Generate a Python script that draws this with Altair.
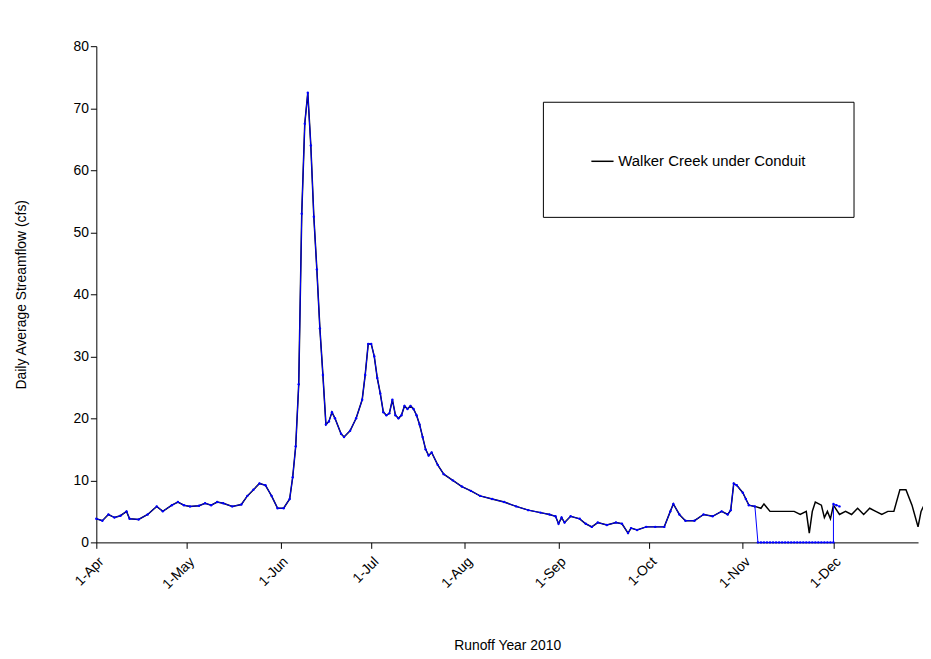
import altair as alt
import pandas as pd

# (month, day, value) key readings of the black series
black_pts = [
 (4,1,3.8),(4,3,3.5),(4,5,4.5),(4,7,4.0),(4,9,4.3),(4,11,5.0),(4,12,3.8),(4,15,3.7),(4,18,4.5),(4,21,5.8),(4,23,5.0),(4,26,6.0),(4,28,6.5),(4,30,6.0),
 (5,2,5.8),(5,5,5.9),(5,7,6.3),(5,9,6.0),(5,11,6.5),(5,13,6.3),(5,16,5.8),(5,19,6.1),(5,21,7.5),(5,23,8.5),(5,25,9.5),(5,27,9.2),(5,29,7.5),(5,31,5.5),
 (6,2,5.5),(6,4,7.0),(6,5,10.5),(6,6,15.5),(6,7,25.5),(6,8,53),(6,9,67.5),(6,10,72.5),(6,11,64),(6,12,52.5),(6,13,44),(6,14,34.5),(6,15,27),(6,16,19),(6,17,19.5),(6,18,21),(6,19,20),(6,21,17.5),(6,22,17),(6,24,18),(6,26,20),(6,28,23),(6,29,27),(6,30,32),
 (7,1,32),(7,2,30),(7,3,26.5),(7,4,24),(7,5,21),(7,6,20.5),(7,7,20.8),(7,8,23),(7,9,20.5),(7,10,20),(7,11,20.5),(7,12,22),(7,13,21.5),(7,14,22),(7,15,21.5),(7,16,20.5),(7,17,19),(7,18,17),(7,19,15),(7,20,14),(7,21,14.5),(7,23,12.5),(7,25,11),(7,28,10),(7,31,9),
 (8,3,8.3),(8,6,7.5),(8,10,7),(8,14,6.5),(8,18,5.8),(8,22,5.2),(8,26,4.8),(8,29,4.5),(8,31,4.2),
 (9,1,3),(9,2,4),(9,3,3.2),(9,5,4.2),(9,8,3.8),(9,10,3),(9,12,2.5),(9,14,3.2),(9,17,2.8),(9,20,3.2),(9,22,3),(9,24,1.5),(9,25,2.3),(9,27,2),(9,30,2.5),
 (10,3,2.5),(10,6,2.5),(10,8,5),(10,9,6.2),(10,11,4.5),(10,13,3.5),(10,16,3.5),(10,19,4.5),(10,22,4.2),(10,25,5),(10,27,4.5),(10,28,5.2),(10,29,9.5),(10,30,9.2),
 (11,1,8),(11,2,7),(11,3,6),(11,5,5.8),(11,7,5.5),(11,8,6.2),(11,10,5),(11,14,5),(11,18,5),(11,20,4.5),(11,22,5),(11,23,1.5),(11,24,5),(11,25,6.5),(11,27,6),(11,28,4),(11,29,5),(11,30,3.8),
 (12,1,6),(12,3,4.5),(12,5,5),(12,7,4.5),(12,9,5.5),(12,11,4.5),(12,13,5.5),(12,15,5),(12,17,4.5),(12,19,5),(12,21,5),(12,23,8.5),(12,25,8.5),(12,27,6),(12,29,2.5),(12,30,5),(12,31,6),
]
# blue series: same as black until Nov 5, then zero until Dec 1
blue_zero_days = [(11,d) for d in range(6,31)] + [(12,1)]
blue_tail = [(12,1,6.2),(12,2,6.0),(12,3,5.8)]

def ds(m, d):
    return f"2010-{m:02d}-{d:02d}"

black = pd.DataFrame({"date": [ds(m, d) for m, d, v in black_pts],
                      "flow": [v for m, d, v in black_pts],
                      "series": "Walker Creek under Conduit"})
blue_rows = [(ds(m, d), v) for m, d, v in black_pts if (m, d) <= (11, 5)]
blue_rows += [(ds(m, d), 0.0) for m, d in blue_zero_days]
blue_rows += [(ds(m, d), v) for m, d, v in blue_tail]
blue = pd.DataFrame(blue_rows, columns=["date", "flow"])

ticks = [ds(m, 1) for m in range(4, 13)]
F = "Liberation Sans"
x = alt.X("date:T", title="Runoff Year 2010",
          scale=alt.Scale(type="utc", domain=["2010-04-01", "2010-12-29"]),
          axis=alt.Axis(values=ticks, labelExpr="utcFormat(datum.value, '%-d-%b')", labelAngle=-45,
                        labelAlign="right", grid=False, domainColor="black", tickColor="black",
                        labelColor="black", titleColor="black", titleFontWeight="normal",
                        labelFont=F, titleFont=F, labelFontSize=14, titleFontSize=14,
                        labelPadding=6, titlePadding=48, tickSize=6))
y = alt.Y("flow:Q", title="Daily Average Streamflow (cfs)",
          scale=alt.Scale(domain=[0, 80]),
          axis=alt.Axis(values=list(range(0, 81, 10)), grid=False, domainColor="black",
                        tickColor="black", labelColor="black", titleColor="black",
                        titleFontWeight="normal", labelFont=F, titleFont=F,
                        labelFontSize=14, titleFontSize=14, titlePadding=45, tickSize=6))

bl = alt.Chart(black).mark_line(strokeWidth=1.5).encode(
    x=x, y=y,
    color=alt.Color("series:N", scale=alt.Scale(range=["black"]),
                    legend=alt.Legend(title=None, orient="none", legendX=450, legendY=56,
                                      strokeColor="black", padding=48, symbolType="stroke",
                                      symbolSize=500, symbolStrokeWidth=1.5, labelFont=F,
                                      labelFontSize=15, labelColor="black", labelLimit=400)))
bu = alt.Chart(blue).mark_line(color="#0000ff", strokeWidth=1,
                               point=alt.OverlayMarkDef(color="#0000ff", size=6, filled=True)).encode(x=x, y=y)

chart = alt.layer(bl, bu).properties(
    width=828, height=500, autosize=alt.AutoSizeParams(type="none"),
    padding={"left": 89, "top": 36, "right": 5, "bottom": 110}
).configure_view(stroke=None)
chart.save("out.html", embed_options={"renderer": "svg", "actions": False})
